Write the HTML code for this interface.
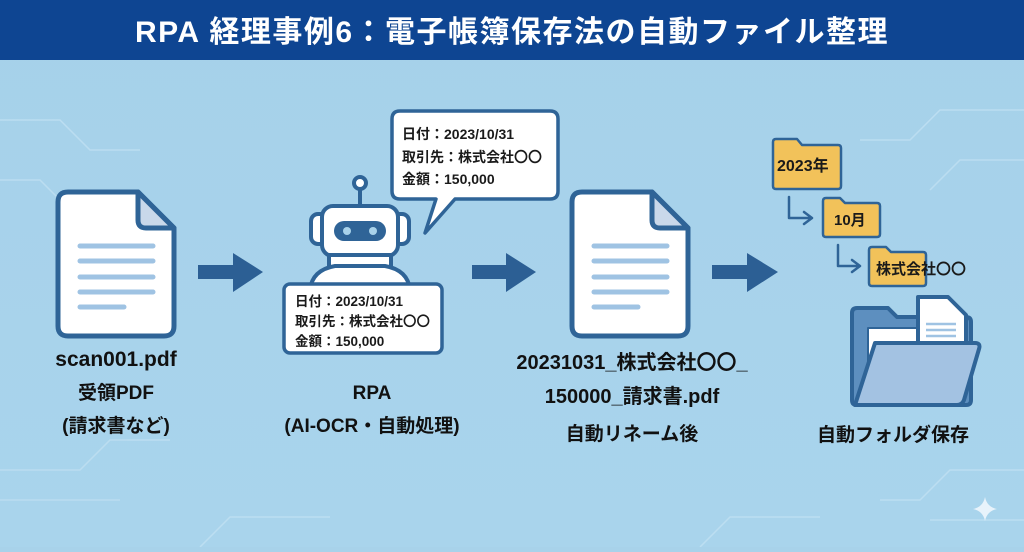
<!DOCTYPE html>
<html><head><meta charset="utf-8"><style>
html,body{margin:0;padding:0;}
body{width:1024px;height:547px;overflow:hidden;background:#a8d2ea;font-family:"Liberation Sans","Noto Sans CJK JP",sans-serif;}
svg text{font-family:"Liberation Sans","Noto Sans CJK JP",sans-serif;}
</style></head><body>
<svg width="1024" height="547" viewBox="0 0 1024 547" xmlns="http://www.w3.org/2000/svg">
<defs>
<linearGradient id="bg" x1="0" y1="0" x2="0" y2="1"><stop offset="0" stop-color="#a6d1ea"/><stop offset="1" stop-color="#a9d4ec"/></linearGradient>
</defs>
<rect width="1024" height="547" fill="url(#bg)"/>
<g stroke="#c4e2f3" stroke-width="1.5" fill="none" opacity="0.7">
<path d="M0 120 H60 L90 150 H140"/><path d="M0 180 H40 L70 210"/><path d="M0 470 H80 L110 440 H170"/><path d="M0 500 H120"/>
<path d="M1024 110 H940 L910 140 H860"/><path d="M1024 160 H960 L930 190"/><path d="M1024 470 H950 L920 500 H880"/><path d="M1024 520 H930"/>
<path d="M200 547 L230 517 H330"/><path d="M700 547 L730 517 H820"/>
</g>
<rect x="0" y="0" width="1024" height="60" fill="#0e4592"/>
<text x="512" y="42" text-anchor="middle" font-size="30" font-weight="bold" fill="#fff" letter-spacing="1.5">RPA 経理事例6：電子帳簿保存法の自動ファイル整理</text>

<!-- doc1 -->
<g stroke="#2f6497" stroke-width="5" stroke-linejoin="round">
<path d="M68 192 H138 L174 228 V326 Q174 336 164 336 H68 Q58 336 58 326 V202 Q58 192 68 192 Z" fill="#fff"/>
<path d="M138 192 V220 Q138 228 146 228 H174 Z" fill="#c9d8ea"/>
</g>
<g stroke="#9fc3e3" stroke-width="5" stroke-linecap="round">
<line x1="80" y1="246" x2="153" y2="246"/><line x1="80" y1="261" x2="153" y2="261"/><line x1="80" y1="277" x2="153" y2="277"/><line x1="80" y1="292" x2="153" y2="292"/><line x1="80" y1="307" x2="124" y2="307"/>
</g>
<!-- arrows -->
<g fill="#2c5f94">
<path d="M198 265 H233 V253 L263 272 L233 292 V279 H198 Z"/>
<path d="M472 265 H506 V253 L536 272 L506 292 V279 H472 Z"/>
<path d="M712 265 H747 V253 L778 272 L747 292 V279 H712 Z"/>
</g>
<!-- bubble -->
<path d="M400 111 H550 Q558 111 558 119 V191 Q558 199 550 199 H455 L425 233 L436 199 H400 Q392 199 392 191 V119 Q392 111 400 111 Z" fill="#fff" stroke="#2f6497" stroke-width="3.5" stroke-linejoin="round"/>
<g font-size="14" font-weight="bold" fill="#1a1a1a">
<text x="402" y="139">日付：2023/10/31</text>
<text x="402" y="162">取引先：株式会社〇〇</text>
<text x="402" y="184">金額：150,000</text>
</g>
<!-- robot -->
<g stroke="#2f6497" stroke-width="4">
<line x1="360" y1="190" x2="360" y2="207"/>
<circle cx="360" cy="183" r="6" fill="#fff"/>
<rect x="311" y="214" width="16" height="30" rx="7" fill="#fff"/>
<rect x="393" y="214" width="16" height="30" rx="7" fill="#fff"/>
<rect x="322" y="206" width="76" height="50" rx="11" fill="#fff"/>
<rect x="329" y="255" width="62" height="12" fill="#fff"/>
<path d="M310 290 Q312 270 335 266 H385 Q408 270 410 290 Z" fill="#fff"/>
</g>
<rect x="334" y="221" width="52" height="20" rx="10" fill="#2f6497"/>
<circle cx="347" cy="231" r="4" fill="#a8d2ea"/><circle cx="373" cy="231" r="4" fill="#a8d2ea"/>
<rect x="284" y="284" width="158" height="69" rx="6" fill="#fff" stroke="#2f6497" stroke-width="3.5"/>
<g font-size="13.5" font-weight="bold" fill="#1a1a1a">
<text x="295" y="306">日付：2023/10/31</text>
<text x="295" y="326">取引先：株式会社〇〇</text>
<text x="295" y="346">金額：150,000</text>
</g>
<!-- doc2 -->
<g stroke="#2f6497" stroke-width="5" stroke-linejoin="round">
<path d="M582 192 H652 L688 228 V326 Q688 336 678 336 H582 Q572 336 572 326 V202 Q572 192 582 192 Z" fill="#fff"/>
<path d="M652 192 V220 Q652 228 660 228 H688 Z" fill="#c9d8ea"/>
</g>
<g stroke="#9fc3e3" stroke-width="5" stroke-linecap="round">
<line x1="594" y1="246" x2="667" y2="246"/><line x1="594" y1="261" x2="667" y2="261"/><line x1="594" y1="277" x2="667" y2="277"/><line x1="594" y1="292" x2="667" y2="292"/><line x1="594" y1="307" x2="638" y2="307"/>
</g>
<!-- small folders -->
<g stroke="#2f6497" stroke-width="2.5" fill="#f2c25a" stroke-linejoin="round">
<path d="M773 142 Q773 139 776 139 H797 L802 145 H838 Q841 145 841 148 V186 Q841 189 838 189 H776 Q773 189 773 186 Z"/>
<path d="M823 201 Q823 198 826 198 H840 L845 203 H877 Q880 203 880 206 V234 Q880 237 877 237 H826 Q823 237 823 234 Z"/>
<path d="M869 250 Q869 247 872 247 H886 L891 252 H923 Q926 252 926 255 V283 Q926 286 923 286 H872 Q869 286 869 283 Z"/>
</g>
<g stroke="#2f6497" stroke-width="2.5" fill="none" stroke-linecap="round" stroke-linejoin="round">
<path d="M789 197 V218 H812 M804 212 L812 218 L804 224"/>
<path d="M838 245 V266 H860 M852 260 L860 266 L852 272"/>
</g>
<g font-weight="bold" fill="#1a1a1a">
<text x="777" y="171" font-size="16">2023年</text>
<text x="834" y="225" font-size="15">10月</text>
<text x="876" y="274" font-size="15">株式会社〇〇</text>
</g>
<!-- big folder -->
<g stroke="#2f6497" stroke-width="4" stroke-linejoin="round">
<path d="M852 313 Q852 308 857 308 H888 L897 317 H966 Q971 317 971 322 V400 Q971 405 966 405 H857 Q852 405 852 400 Z" fill="#5d8fbf"/>
<rect x="868" y="328" width="90" height="50" fill="#fff" stroke-width="2"/>
<path d="M918 297 H948 L966 315 V360 H918 Z" fill="#fff"/>
<path d="M875 343 H975 Q981 343 979 349 L964 400 Q962 405 957 405 H855 Z" fill="#a3c2e2"/>
</g>
<g stroke="#9fc3e3" stroke-width="2.5"><line x1="926" y1="324" x2="956" y2="324"/><line x1="926" y1="330" x2="956" y2="330"/><line x1="926" y1="336" x2="956" y2="336"/></g>
<!-- labels -->
<g font-weight="bold" fill="#111" text-anchor="middle" font-size="19">
<text x="116" y="366" font-size="21">scan001.pdf</text>
<text x="116" y="399">受領PDF</text>
<text x="116" y="432">(請求書など)</text>
<text x="372" y="399">RPA</text>
<text x="372" y="432">(AI-OCR・自動処理)</text>
<text x="632" y="369" font-size="20">20231031_株式会社〇〇_</text>
<text x="632" y="403" font-size="20">150000_請求書.pdf</text>
<text x="632" y="440">自動リネーム後</text>
<text x="893" y="441">自動フォルダ保存</text>
</g>
<path d="M985 497 Q987 507 997 509 Q987 511 985 521 Q983 511 973 509 Q983 507 985 497 Z" fill="#e8f3fb"/>
</svg>
</body></html>
